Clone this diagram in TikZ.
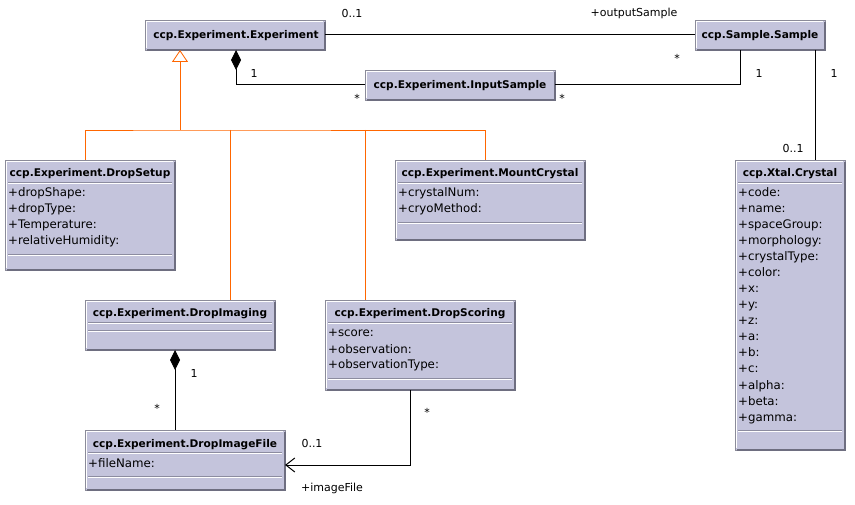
\documentclass[tikz,border=0pt]{standalone}
\usepackage{fontspec}
\setmainfont{DejaVu Sans}
\usetikzlibrary{arrows.meta,fit,calc}
\definecolor{umlfill}{HTML}{C4C4DC}
\definecolor{umldark}{HTML}{6E6E80}
\definecolor{umlsep}{HTML}{8C8CA0}
\definecolor{genorange}{HTML}{FF6600}
\newcommand\umlBox[5]{%
  \node[umlbox, fit={(#2,#3) (#4,#5)}] (#1) {};
  \draw[umldark, line width=2pt] (#2+2,#5) -- (#4,#5) -- (#4,#3+2);
  \draw[white, line width=0.8pt] (#2+1,#5-2) -- (#2+1,#3+1) -- (#4-2,#3+1);
}
\newcommand\umlSep[3]{%
  \draw[umlsep, line width=0.8pt] (#1+3,#3) -- (#2-3,#3);
  \draw[white, line width=0.8pt] (#1+3,#3+1) -- (#2-3,#3+1);
}
\newcommand\umlAttrs[4]{%
  \foreach \t [count=\i from 0] in {#4} {\node[attr] (#1-\i) at (#2,#3+16*\i) {\t};}
}
\begin{document}
\begin{tikzpicture}[x=1pt,y=-1pt,
  umlbox/.style={draw=umldark!80, fill=umlfill, line width=0.8pt, inner sep=0pt, outer sep=0pt},
  title/.style={font=\fontsize{10.6}{12}\selectfont\bfseries, inner sep=0pt, anchor=base},
  attr/.style={font=\fontsize{11.8}{13}\selectfont, inner sep=0pt, anchor=base west},
  lbl/.style={font=\fontsize{11}{13}\selectfont, inner sep=0pt},
  assoc/.style={draw=black, line width=1pt},
  gen/.style={draw=genorange, line width=0.85pt},
  comp/.style={assoc, {Diamond[length=20pt,width=10pt]}-},
  navarrow/.style={assoc, -{Straight Barb[length=9pt,width=14pt]}},
]
\path[use as bounding box, fill=white] (0,0) rectangle (855,505);

% Experiment
\umlBox{exp}{145}{20}{325}{50}
\node[title] (exp-t) at (236,39) {ccp.Experiment.Experiment};
% InputSample
\umlBox{input}{365}{70}{555}{100}
\node[title] (input-t) at (460,89) {ccp.Experiment.InputSample};
% Sample
\umlBox{sample}{695}{20}{825}{50}
\node[title] (sample-t) at (760,39) {ccp.Sample.Sample};
% DropSetup
\umlBox{setup}{5}{160}{175}{270}
\node[title] (setup-t) at (90,177) {ccp.Experiment.DropSetup};
\umlSep{5}{175}{182}
\umlAttrs{setup-a}{8}{197}{+dropShape:,+dropType:,+Temperature:,+relativeHumidity:}
\umlSep{5}{175}{254}
% MountCrystal
\umlBox{mount}{395}{160}{585}{240}
\node[title] (mount-t) at (490,177) {ccp.Experiment.MountCrystal};
\umlSep{395}{585}{182}
\umlAttrs{mount-a}{398}{197}{+crystalNum:,+cryoMethod:}
\umlSep{395}{585}{222}
% Crystal
\umlBox{crystal}{735}{160}{845}{450}
\node[title] (crystal-t) at (790,177) {ccp.Xtal.Crystal};
\umlSep{735}{845}{182}
\umlAttrs{crystal-a}{738}{197}{+code:,+name:,+spaceGroup:,+morphology:,+crystalType:,+color:,+x:,+y:,+z:,+a:,+b:,+c:,+alpha:,+beta:,+gamma:}
\umlSep{735}{845}{430}
% DropImaging
\umlBox{imaging}{85}{300}{275}{350}
\node[title] (imaging-t) at (180,317) {ccp.Experiment.DropImaging};
\umlSep{85}{275}{322}
\umlSep{85}{275}{330}
% DropImageFile
\umlBox{imgfile}{85}{430}{285}{490}
\node[title] (imgfile-t) at (185,447) {ccp.Experiment.DropImageFile};
\umlSep{85}{285}{452}
\umlAttrs{imgfile-a}{88}{467}{+fileName:}
\umlSep{85}{285}{476}
% DropScoring
\umlBox{scoring}{325}{300}{515}{390}
\node[title] (scoring-t) at (420,317) {ccp.Experiment.DropScoring};
\umlSep{325}{515}{322}
\umlAttrs{scoring-a}{328}{337}{+score:,+observation:,+observationType:}
\umlSep{325}{515}{378}

% associations
\draw[assoc] (exp.east) -- (sample.west);
\coordinate (c1) at ($(exp.south west)+(91,0)$);
\draw[comp] (c1) |- (input.west);
\coordinate (c2) at ($(sample.south west)+(45,0)$);
\draw[assoc] (input.east) -| (c2);
\coordinate (c3) at ($(sample.south west)+(120,0)$);
\draw[assoc] (c3) -- (c3 |- crystal.north);
\coordinate (c4) at ($(imaging.south west)+(90,0)$);
\draw[comp] (c4) -- (c4 |- imgfile.north);
\coordinate (c5) at ($(scoring.south west)+(85,0)$);
\coordinate (c6) at ($(imgfile.south east)+(0,-25)$);
\draw[navarrow] (c5) |- (c6);

% generalization
\coordinate (g0) at ($(exp.south west)+(35,0)$);
\coordinate (gj) at ($(g0)+(0,80)$);
\coordinate (g1) at ($(setup.north west)+(80,0)$);
\coordinate (g2) at ($(imaging.north west)+(145,0)$);
\coordinate (g3) at ($(scoring.north west)+(40,0)$);
\coordinate (g4) at ($(mount.north west)+(90,0)$);
\draw[gen, {Triangle[open,length=12pt,width=16pt,fill=white]}-] (g0) -- (gj);
\draw[gen] (g1) |- (gj) -| (g4);
\draw[gen] (gj -| g2) -- (g2);
\draw[gen] (gj -| g3) -- (g3);

% labels
\node[lbl] (l1) at (352,13) {0..1};
\node[lbl] (l2) at (634,13) {+outputSample};
\node[lbl] (l3) at (677,58) {*};
\node[lbl] (l4) at (254,73) {1};
\node[lbl] (l5) at (357,98) {*};
\node[lbl] (l6) at (562,98) {*};
\node[lbl] (l7) at (759,73) {1};
\node[lbl] (l8) at (834,73) {1};
\node[lbl] (l9) at (793,148) {0..1};
\node[lbl] (l10) at (194,373) {1};
\node[lbl] (l11) at (157,408) {*};
\node[lbl] (l12) at (427,412) {*};
\node[lbl] (l13) at (312,443) {0..1};
\node[lbl] (l14) at (332,488) {+imageFile};
\end{tikzpicture}
\end{document}
